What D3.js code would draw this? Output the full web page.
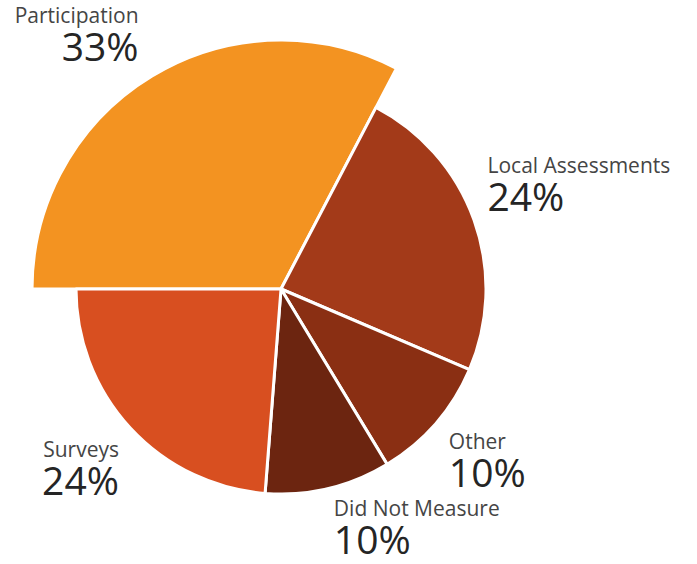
<!DOCTYPE html>
<html>
<head>
<meta charset="utf-8">
<script src="https://cdn.jsdelivr.net/npm/d3@7"></script>
<style>
  html, body { margin: 0; padding: 0; background: #fff; }
  svg { display: block; }
  .label { font-family: "Open Sans", Lato, sans-serif; }
  .name { font-size: 21px; fill: #454545; }
  .pct  { font-size: 39px; font-weight: 400; fill: #252525; }
</style>
</head>
<body>
<script>
// How schools measured engagement (share of respondents, %)
const categories = ["Participation", "Local Assessments", "Other", "Did Not Measure", "Surveys"];
const shares     = [33, 24, 10, 10, 24];
const pctLabels  = ["33%", "24%", "10%", "10%", "24%"];
const palette    = ["#F39321", "#A33A19", "#8A2F13", "#6C2510", "#D84F20"];

// The leading category is drawn as an enlarged wedge
const highlight = "Participation";

const width = 697, height = 564;
const cx = 281, cy = 289;
const radius = 205, bigRadius = 249;

// label nudges relative to each wedge's label point
const labelNudge = {
  "Participation":     { dx: 1,   dy: -29, anchor: "end" },
  "Local Assessments": { dx: -13, dy: -38, anchor: "start" },
  "Other":             { dx: -8,  dy: 7,   anchor: "start" },
  "Did Not Measure":   { dx: -1,  dy: 0,   anchor: "start" },
  "Surveys":           { dx: 9,   dy: 10,  anchor: "end" }
};

const data = categories.map((c, i) => ({ name: c, value: shares[i], label: pctLabels[i] }));
const color = d3.scaleOrdinal().domain(categories).range(palette);

const pie = d3.pie()
  .sort(null)
  .value(d => d.value)
  .startAngle(-Math.PI / 2)
  .endAngle(Math.PI * 1.5);

const outerOf = d => d.data.name === highlight ? bigRadius : radius;
const arc = d3.arc().innerRadius(0).outerRadius(outerOf);

const svg = d3.select("body").append("svg")
  .attr("width", width)
  .attr("height", height);

const g = svg.append("g").attr("transform", `translate(${cx},${cy})`);
const arcs = pie(data);

g.selectAll("path.slice")
  .data(arcs)
  .join("path")
  .attr("class", "slice")
  .attr("d", arc)
  .attr("fill", d => color(d.data.name))
  .attr("stroke", "#fff")
  .attr("stroke-width", 3)
  .attr("stroke-linejoin", "round");

// each label is one text block: category name over its percentage
const labels = g.selectAll("text.label")
  .data(arcs)
  .join("text")
  .attr("class", "label")
  .attr("transform", d => {
    const a = (d.startAngle + d.endAngle) / 2;
    const r = outerOf(d) + 28;
    const n = labelNudge[d.data.name];
    return `translate(${Math.sin(a) * r + n.dx},${-Math.cos(a) * r + n.dy})`;
  })
  .attr("text-anchor", d => labelNudge[d.data.name].anchor);

labels.append("tspan")
  .attr("class", "name")
  .attr("x", 0)
  .attr("y", 0)
  .text(d => d.data.name);

labels.append("tspan")
  .attr("class", "pct")
  .attr("x", 0)
  .attr("y", 38)
  .text(d => d.data.label);
</script>
</body>
</html>
